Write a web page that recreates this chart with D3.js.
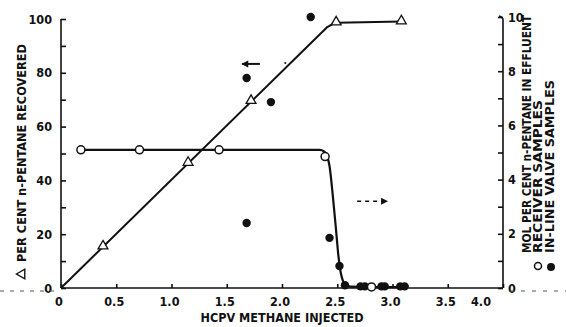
<!DOCTYPE html>
<html>
<head>
<meta charset="utf-8">
<script src="https://cdn.jsdelivr.net/npm/d3@7"></script>
<style>
  body { margin: 0; background: #fff; }
  svg text { font-family: "DejaVu Sans Condensed", "Liberation Sans", sans-serif; font-weight: bold; fill: #111; }
</style>
</head>
<body>
<div id="chart"></div>
<script>
// per cent n-pentane recovered (left axis) -- triangles
const recoveredX = [0.38, 1.15, 1.72, 2.49, 3.08];
const recoveredY = [15.2, 46.3, 69.3, 98.5, 98.9];
// fitted recovery line
const recoveredLineX = [0, 2.41, 2.46, 2.50, 3.08];
const recoveredLineY = [0, 97.0, 98.2, 98.6, 99.1];

// mol per cent n-pentane in effluent (right axis)
const receiverX = [0.18, 0.71, 1.43, 2.39, 2.81];
const receiverY = [5.1, 5.1, 5.1, 4.85, 0.04];
const inlineX = [1.68, 1.90, 1.68, 2.26, 2.43, 2.52, 2.57, 2.71, 2.75, 2.90, 2.93, 3.07, 3.11];
const inlineY = [7.75, 6.86, 2.4, 10.0, 1.85, 0.81, 0.1, 0.06, 0.06, 0.06, 0.06, 0.06, 0.06];
// effluent curve
const effluentLineX = [0.18, 2.34, 2.38, 2.41, 2.43, 2.46, 2.49, 2.51, 2.53, 2.55, 2.58, 2.62, 3.12];
const effluentLineY = [5.1, 5.1, 5.04, 4.85, 4.5, 3.4, 2.1, 1.2, 0.6, 0.28, 0.1, 0.05, 0.03];

const xTicks = [0, 0.5, 1.0, 1.5, 2.0, 2.5, 3.0, 3.5, 4.0];
const xTickLabels = ["0", "0.5", "1.0", "1.5", "2.0", "2.5", "3.0", "3.5", "4.0"];
const leftTicks = [0, 20, 40, 60, 80, 100];
const rightTicks = [0, 2, 4, 6, 8, 10];

const width = 566, height = 327;
const svg = d3.select("#chart").append("svg")
  .attr("width", width).attr("height", height);

const x = d3.scaleLinear().domain([0, 4]).range([61, 503]);
const yL = d3.scaleLinear().domain([0, 100]).range([288, 19]);
const yR = d3.scaleLinear().domain([0, 10]).range([288, 17]);

const ink = "#111";

// left axis
const gL = svg.append("g").attr("transform", "translate(61,0)")
  .call(d3.axisRight(yL).ticks(10).tickSize(5).tickFormat(""));
gL.selectAll("line,path").attr("stroke", ink).attr("stroke-width", 1.6);
gL.select(".domain").attr("d", `M0,${yL(100)}V${yL(0)}`);
svg.append("g").selectAll("text").data(leftTicks).join("text")
  .attr("x", 52).attr("y", d => yL(d)).attr("dy", "0.36em")
  .attr("text-anchor", "end").attr("font-size", 12.5).text(d => d);

// right axis
const gR = svg.append("g").attr("transform", "translate(503,0)")
  .call(d3.axisLeft(yR).ticks(10).tickSize(5).tickFormat(""));
gR.selectAll("line,path").attr("stroke", ink).attr("stroke-width", 1.6);
gR.select(".domain").attr("d", `M0,${yR(0)}V${yR(10) + 3}Q0,${yR(10)} -4,${yR(10) - 1}`);
svg.append("g").selectAll("text").data(rightTicks).join("text")
  .attr("x", 508).attr("y", d => yR(d)).attr("dy", "0.36em")
  .attr("font-size", 12.5).text(d => d);

// bottom axis
const gX = svg.append("g").attr("transform", "translate(0,288)")
  .call(d3.axisTop(x).tickValues(xTicks).tickSize(4).tickFormat(""));
gX.selectAll("line,path").attr("stroke", ink).attr("stroke-width", 1.6);
gX.select(".domain").attr("d", `M${x(0)},0H${x(4)}`);
svg.append("g").selectAll("text").data(xTicks).join("text")
  .attr("x", (d, i) => x(d) - (i === xTicks.length - 1 ? 22 : 2))
  .attr("y", 306).attr("text-anchor", "middle")
  .attr("font-size", 12.5).text((d, i) => xTickLabels[i]);

// scan noise along the baseline
svg.append("line").attr("x1", 0).attr("x2", 56).attr("y1", 291).attr("y2", 291)
  .attr("stroke", "#555").attr("stroke-width", 1).attr("stroke-dasharray", "4,6");
svg.append("line").attr("x1", 510).attr("x2", 566).attr("y1", 291).attr("y2", 291)
  .attr("stroke", "#555").attr("stroke-width", 1).attr("stroke-dasharray", "4,7");

// titles
svg.append("text").attr("x", 282).attr("y", 322).attr("text-anchor", "middle")
  .attr("font-size", 13).attr("textLength", 163).attr("lengthAdjust", "spacingAndGlyphs")
  .text("HCPV METHANE INJECTED");

svg.append("text").attr("transform", "translate(26,262) rotate(-90)")
  .attr("font-size", 12.5).attr("textLength", 218).attr("lengthAdjust", "spacingAndGlyphs")
  .text("PER CENT n-PENTANE RECOVERED");
svg.append("path")
  .attr("d", d3.symbol(d3.symbolTriangle, 40)())
  .attr("transform", "translate(22,274) rotate(-90)")
  .attr("fill", "none").attr("stroke", ink).attr("stroke-width", 1.4);

const rightLabels = [
  ["MOL PER CENT n-PENTANE IN EFFLUENT", 531, 238],
  ["RECEIVER SAMPLES", 542, 153],
  ["IN-LINE VALVE SAMPLES", 554, 173]
];
svg.append("g").selectAll("text").data(rightLabels).join("text")
  .attr("transform", d => `translate(${d[1]},253) rotate(-90)`)
  .attr("font-size", 12).attr("textLength", d => d[2]).attr("lengthAdjust", "spacingAndGlyphs")
  .text(d => d[0]);
svg.append("circle").attr("cx", 538).attr("cy", 266).attr("r", 3.5)
  .attr("fill", "#fff").attr("stroke", ink).attr("stroke-width", 1.5);
svg.append("circle").attr("cx", 551).attr("cy", 267).attr("r", 4).attr("fill", ink);

// lines
const lineL = d3.line().x(d => x(d[0])).y(d => yL(d[1]));
const lineR = d3.line().x(d => x(d[0])).y(d => yR(d[1])).curve(d3.curveMonotoneX);

svg.append("path").datum(d3.zip(recoveredLineX, recoveredLineY))
  .attr("d", lineL).attr("fill", "none").attr("stroke", ink).attr("stroke-width", 2)
  .attr("stroke-linejoin", "round");
svg.append("path").datum(d3.zip(effluentLineX, effluentLineY))
  .attr("d", lineR).attr("fill", "none").attr("stroke", ink).attr("stroke-width", 2.2);

// annotation arrows
const arrowHead = (x0, y0, dir) => `M${x0},${y0}l${-7 * dir},-3.5l0,7z`;
svg.append("line").attr("x1", x(1.64)).attr("x2", x(1.80)).attr("y1", yL(83.3)).attr("y2", yL(83.3))
  .attr("stroke", ink).attr("stroke-width", 2);
svg.append("path").attr("d", arrowHead(x(1.64) - 1, yL(83.3), -1)).attr("fill", ink);
svg.append("circle").attr("cx", x(2.03)).attr("cy", yL(83.6)).attr("r", 1).attr("fill", ink);

svg.append("line").attr("x1", x(2.68)).attr("x2", x(2.94)).attr("y1", yR(3.2)).attr("y2", yR(3.2))
  .attr("stroke", ink).attr("stroke-width", 1.6).attr("stroke-dasharray", "4,4");
svg.append("path").attr("d", arrowHead(x(2.96), yR(3.2), 1)).attr("fill", ink);

// markers
svg.append("g").selectAll("path").data(d3.zip(recoveredX, recoveredY)).join("path")
  .attr("d", d3.symbol(d3.symbolTriangle, 42)())
  .attr("transform", d => `translate(${x(d[0])},${yL(d[1]) - 1})`)
  .attr("fill", "#fff").attr("stroke", ink).attr("stroke-width", 1.3);

svg.append("g").selectAll("circle").data(d3.zip(inlineX, inlineY)).join("circle")
  .attr("cx", d => x(d[0])).attr("cy", d => yR(d[1])).attr("r", 4.2).attr("fill", ink);

svg.append("g").selectAll("circle").data(d3.zip(receiverX, receiverY)).join("circle")
  .attr("cx", d => x(d[0])).attr("cy", d => yR(d[1])).attr("r", 4)
  .attr("fill", "#fff").attr("stroke", ink).attr("stroke-width", 1.5);
</script>
</body>
</html>
